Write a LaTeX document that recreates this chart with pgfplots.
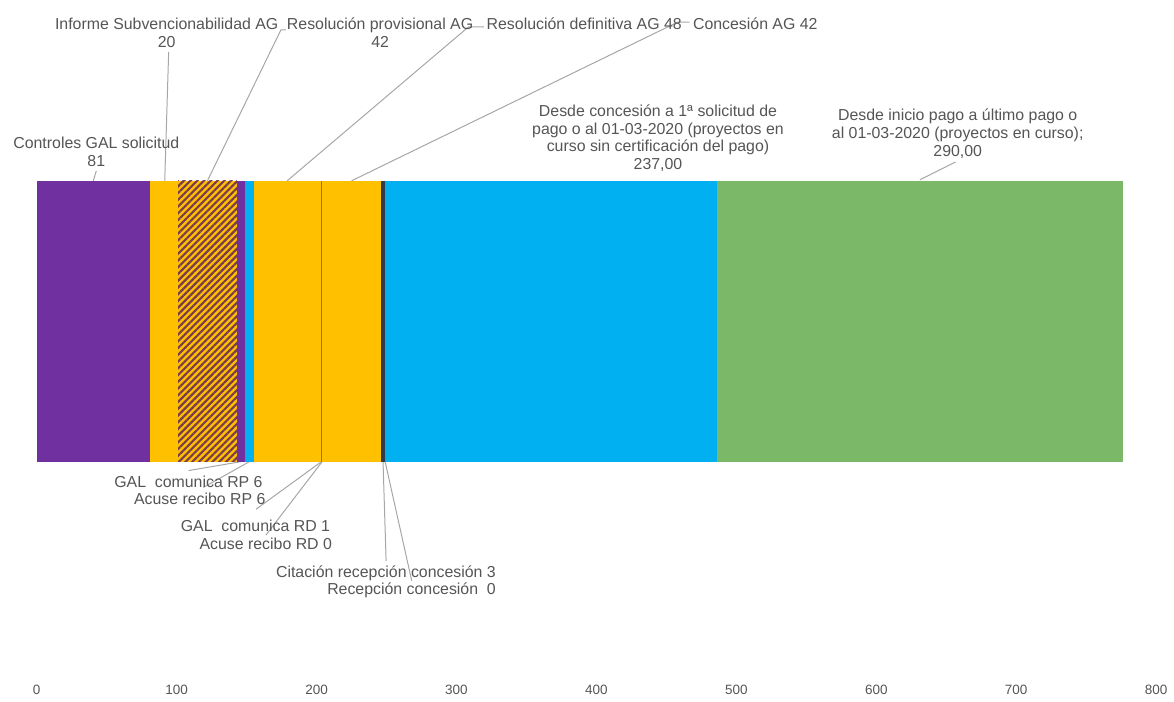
\documentclass[border=0pt]{standalone}
\usepackage{pgfplots}
\pgfplotsset{compat=1.18}
\usepackage{fontspec}
\setmainfont{Liberation Sans}
\usetikzlibrary{patterns.meta}

\definecolor{morado}{HTML}{7030A0}
\definecolor{oro}{HTML}{FFC000}
\definecolor{azul}{HTML}{00B0F0}
\definecolor{raya}{HTML}{7B3B4F}
\definecolor{rdlinea}{HTML}{B8652A}
\definecolor{oscuro}{HTML}{2E3D49}
\definecolor{verde}{HTML}{7BB868}
\definecolor{texto}{HTML}{555555}
\definecolor{guia}{HTML}{A6A6A6}

\tikzset{
    lbl/.style={font=\fontsize{8}{9}\selectfont, text=texto, inner sep=0pt, align=center},
    ldr/.style={draw=guia, line width=0.5pt},
}

\begin{document}
\begin{tikzpicture}
\begin{axis}[
    scale only axis,
    width=587pt, height=350.5pt,
    xmin=-26.24, xmax=806.38,
    ymin=0, ymax=701,
    xbar stacked,
    bar width=141.5pt,
    axis line style={draw=none},
    major tick length=0pt,
    ytick=\empty,
    xtick={0,100,...,800},
    xticklabel style={anchor=center, yshift=3pt, font=\fontsize{6.8}{8}\selectfont, text=texto},
    /pgf/number format/assume math mode=true,
    clip=false,
]
% Controles GAL solicitud
\addplot[fill=morado, draw=none] coordinates {(81,377.5)};
% Informe Subvencionabilidad AG
\addplot[fill=oro, draw=none] coordinates {(20,377.5)};
% Resolucion provisional AG
\addplot[fill=oro, draw=none, postaction={pattern={Lines[angle=45,distance=2.4pt,line width=1.1pt]}, pattern color=raya}] coordinates {(42,377.5)};
% GAL comunica RP
\addplot[fill=morado, draw=none] coordinates {(6,377.5)};
% Acuse recibo RP
\addplot[fill=azul, draw=none] coordinates {(6,377.5)};
% Resolucion definitiva AG
\addplot[fill=oro, draw=none] coordinates {(48,377.5)};
% GAL comunica RD
\addplot[fill=rdlinea, draw=none] coordinates {(1,377.5)};
% Acuse recibo RD
\addplot[fill=none, draw=none] coordinates {(0,377.5)};
% Concesion AG
\addplot[fill=oro, draw=none] coordinates {(42,377.5)};
% Citacion recepcion concesion
\addplot[fill=oscuro, draw=none] coordinates {(3,377.5)};
% Recepcion concesion
\addplot[fill=none, draw=none] coordinates {(0,377.5)};
% Desde concesion a 1a solicitud de pago
\addplot[fill=azul, draw=none] coordinates {(237,377.5)};
% Desde inicio pago a ultimo pago
\addplot[fill=verde, draw=none] coordinates {(290,377.5)};

% etiquetas superiores
\node[lbl] at (axis cs:42.6,548.5) {Controles GAL solicitud\\81};
\node[lbl] at (axis cs:92.9,668) {Informe Subvencionabilidad AG\\20};
\node[lbl] at (axis cs:245.4,668) {Resolución provisional AG\\42};
\node[lbl, anchor=west] at (axis cs:321.3,677) {Resolución definitiva AG 48};
\node[lbl, anchor=west] at (axis cs:468.8,677) {Concesión AG 42};
\node[lbl] at (axis cs:444.0,562) {Desde concesión a 1ª solicitud de\\pago o al 01-03-2020 (proyectos en\\curso sin certificación del pago)\\237,00};
\node[lbl] at (axis cs:658.2,566.5) {Desde inicio pago a último pago o\\al 01-03-2020 (proyectos en curso);\\290,00};

% etiquetas inferiores
\node[lbl, anchor=east] at (axis cs:161.7,216) {GAL\ \ comunica RP 6};
\node[lbl, anchor=east] at (axis cs:163.8,199) {Acuse recibo RP 6};
\node[lbl, anchor=east] at (axis cs:209.9,171) {GAL\ \ comunica RD 1};
\node[lbl, anchor=east] at (axis cs:211.3,153) {Acuse recibo RD 0};
\node[lbl, anchor=east] at (axis cs:328.4,123) {Citación recepción concesión 3};
\node[lbl, anchor=east] at (axis cs:328.4,106) {Recepción concesión\ \ 0};

% lineas guia
\draw[ldr] (axis cs:40.4,519) -- (axis cs:42.6,529);
\draw[ldr] (axis cs:91.5,519) -- (axis cs:94.3,649);
\draw[ldr] (axis cs:122,519) -- (axis cs:174.5,671) -- (axis cs:178,671);
\draw[ldr] (axis cs:179,519) -- (axis cs:308.5,674) -- (axis cs:319.5,674);
\draw[ldr] (axis cs:225,519) -- (axis cs:458.2,679) -- (axis cs:466.5,679);
\draw[ldr] (axis cs:631.2,520) -- (axis cs:656.7,538);
\draw[ldr] (axis cs:146,236) -- (axis cs:108.5,227);
\draw[ldr] (axis cs:152,236) -- (axis cs:119.1,210);
\draw[ldr] (axis cs:203.5,236) -- (axis cs:156.7,188);
\draw[ldr] (axis cs:204,236) -- (axis cs:163.8,162);
\draw[ldr] (axis cs:247.5,236) -- (axis cs:249.7,136);
\draw[ldr] (axis cs:249,236) -- (axis cs:268,116);
\end{axis}
\end{tikzpicture}
\end{document}
